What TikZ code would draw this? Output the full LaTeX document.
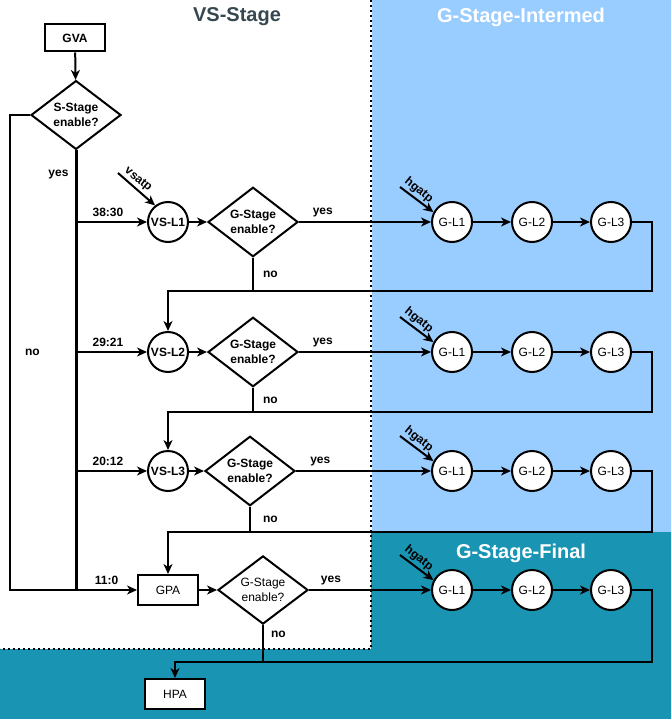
\documentclass[tikz,border=0pt]{standalone}
\usepackage{fontspec}
\setmainfont{Liberation Sans}
\usetikzlibrary{shapes.geometric,arrows.meta}
\definecolor{intermed}{HTML}{99CCFF}
\definecolor{final}{HTML}{1A94B3}
\definecolor{vsgray}{HTML}{37474F}
\begin{document}
\fontsize{12}{15}\selectfont
\begin{tikzpicture}[x=1pt,y=-1pt,line width=2pt,
    >={Stealth[length=10pt,width=9pt,inset=3pt]},
    box/.style={draw,fill=white,minimum width=60pt,minimum height=30pt,inner sep=0pt},
    test/.style={draw,fill=white,diamond,minimum width=90pt,minimum height=68pt,inner sep=0pt,align=center},
    lvl/.style={draw,fill=white,circle,minimum size=40pt,inner sep=0pt},
    lbl/.style={font=\bfseries,inner sep=0pt},
    tilt/.style={font=\bfseries,inner sep=2pt,anchor=south,rotate=-39},
    title/.style={font=\fontsize{20}{24}\selectfont\bfseries}]
  \useasboundingbox (0,0) rectangle (671,719);
  % stage areas
  \fill[final] (0,532) rectangle (671,719);
  \fill[intermed] (372,0) rectangle (671,532);
  \fill[white] (0,0) rectangle (371,649);
  \draw[line width=2pt,dash pattern=on 2pt off 3pt] (371,0) -- (371,649) -- (0,649);
  \node[title,text=vsgray] (vst) at (237,17) {VS-Stage};
  \node[title,text=white] (git) at (521,17) {G-Stage-Intermed};
  \node[title,text=white] (gft) at (521,553) {G-Stage-Final};

  \node[box,font=\bfseries,minimum height=27pt] (gva) at (75,38) {GVA};
  \node[test,font=\bfseries] (sst) at (76,115) {S-Stage\\enable?};
  \node[lvl,font=\bfseries] (vs1) at (168,222) {VS-L1};
  \node[lvl,font=\bfseries] (vs2) at (168,352) {VS-L2};
  \node[lvl,font=\bfseries] (vs3) at (168,471) {VS-L3};
  \node[box] (gpa) at (168,590) {GPA};
  \node[box] (hpa) at (175,694) {HPA};
  \node[test,font=\bfseries] (gs1) at (253,222) {G-Stage\\enable?};
  \node[test,font=\bfseries] (gs2) at (253,352) {G-Stage\\enable?};
  \node[test,font=\bfseries] (gs3) at (250,471) {G-Stage\\enable?};
  \node[test] (gs4) at (263,590) {G-Stage\\enable?};
  \node[lvl] (g11) at (452,222) {G-L1};
  \node[lvl] (g12) at (532,222) {G-L2};
  \node[lvl] (g13) at (611,222) {G-L3};
  \node[lvl] (g21) at (452,352) {G-L1};
  \node[lvl] (g22) at (532,352) {G-L2};
  \node[lvl] (g23) at (611,352) {G-L3};
  \node[lvl] (g31) at (452,471) {G-L1};
  \node[lvl] (g32) at (532,471) {G-L2};
  \node[lvl] (g33) at (611,471) {G-L3};
  \node[lvl] (g41) at (452,590) {G-L1};
  \node[lvl] (g42) at (532,590) {G-L2};
  \node[lvl] (g43) at (611,590) {G-L3};

  \coordinate (bus) at (76,590);
  \coordinate (lft) at (10,590);
  \coordinate (va) at (118,173);
  \coordinate (h1) at (400,187);
  \coordinate (h2) at (400,317);
  \coordinate (h3) at (400,436);
  \coordinate (h4) at (400,555);
  \coordinate (r1) at (652,291);
  \coordinate (r2) at (652,412);
  \coordinate (r3) at (652,532);
  \coordinate (r4) at (652,662);

  \draw[->] (gva) -- (sst);
  \draw[line width=3pt] (sst.south) -- node[lbl,pos=0.055,left=6pt] {yes} (bus);
  \draw (sst.west) -| node[lbl,pos=0.75,right=14pt] {no} (lft) -- (bus);
  \draw[->] (bus |- vs1) -- node[lbl,above=4pt,pos=0.45] {38:30} (vs1);
  \draw[->] (bus |- vs2) -- node[lbl,above=4pt,pos=0.45] {29:21} (vs2);
  \draw[->] (bus |- vs3) -- node[lbl,above=4pt,pos=0.45] {20:12} (vs3);
  \draw[->] (bus) -- node[lbl,above=4pt,pos=0.5] {11:0} (gpa);
  \draw[->] (va) -- node[tilt,pos=0.4] {vsatp} (vs1.128);

  \draw[->] (vs1) -- (gs1);
  \draw[->] (vs2) -- (gs2);
  \draw[->] (vs3) -- (gs3);
  \draw[->] (gpa) -- (gs4);
  \draw[->] (gs1) -- node[lbl,above=4pt,pos=0.18] {yes} (g11);
  \draw[->] (gs2) -- node[lbl,above=4pt,pos=0.18] {yes} (g21);
  \draw[->] (gs3) -- node[lbl,above=4pt,pos=0.18] {yes} (g31);
  \draw[->] (gs4) -- node[lbl,above=4pt,pos=0.18] {yes} (g41);
  \draw (gs1) -- node[lbl,right=9pt] {no} (gs1 |- r1);
  \draw (gs2) -- node[lbl,right=9pt] {no} (gs2 |- r2);
  \draw (gs3) -- node[lbl,right=12pt] {no} (gs3 |- r3);
  \draw (gs4) -- node[lbl,right=7pt,pos=0.25] {no} (gs4 |- r4);

  \draw[->] (h1) -- node[tilt,pos=0.4] {hgatp} (g11.152);
  \draw[->] (h2) -- node[tilt,pos=0.4] {hgatp} (g21.152);
  \draw[->] (h3) -- node[tilt,pos=0.4] {hgatp} (g31.152);
  \draw[->] (h4) -- node[tilt,pos=0.4] {hgatp} (g41.152);
  \draw[->] (g11) -- (g12);
  \draw[->] (g12) -- (g13);
  \draw[->] (g21) -- (g22);
  \draw[->] (g22) -- (g23);
  \draw[->] (g31) -- (g32);
  \draw[->] (g32) -- (g33);
  \draw[->] (g41) -- (g42);
  \draw[->] (g42) -- (g43);
  \draw[->] (g13) -| (r1) -| (vs2);
  \draw[->] (g23) -| (r2) -| (vs3);
  \draw[->] (g33) -| (r3) -| (gpa);
  \draw[->] (g43) -| (r4) -| (hpa);
\end{tikzpicture}
\end{document}
